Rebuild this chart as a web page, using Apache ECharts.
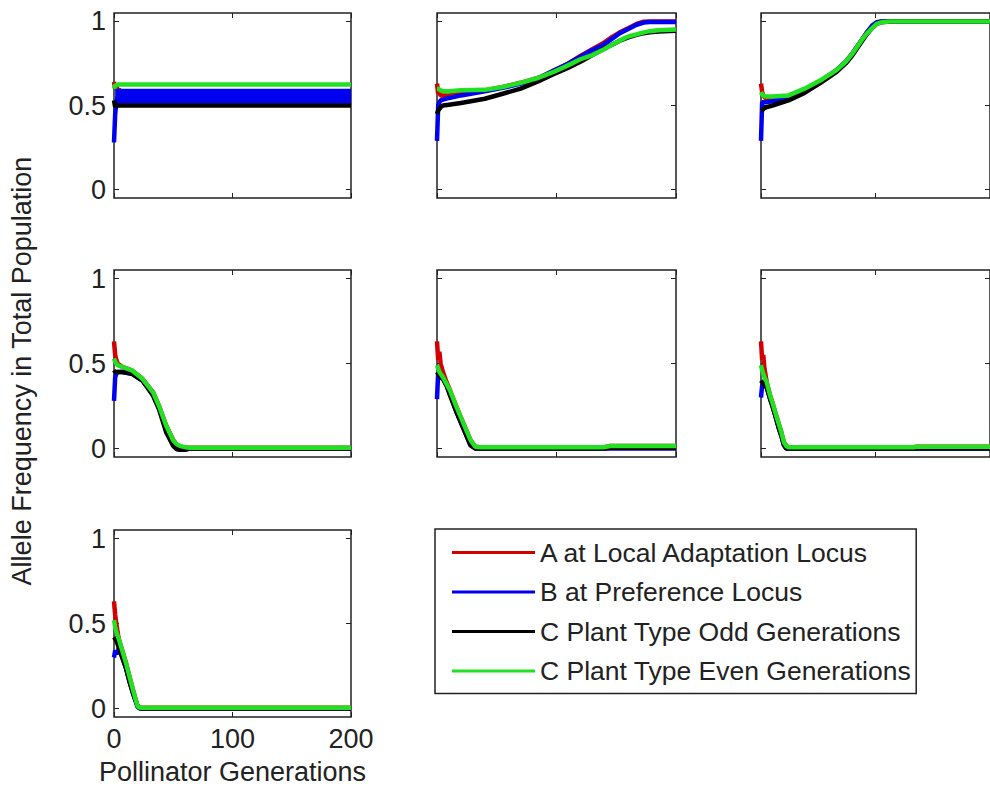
<!DOCTYPE html>
<html>
<head>
<meta charset="utf-8">
<script src="https://cdn.jsdelivr.net/npm/echarts@6/dist/echarts.min.js"></script>
<style>
    html, body { margin: 0; padding: 0; background: #fff; }
    #chart { width: 990px; height: 790px; }
</style>
</head>
<body>
<div id="chart"></div>
<script>
// tick labels
var yTicks = [0, 0.5, 1];
var xTicks = [0, 100, 200];

var seriesNames = ['A at Local Adaptation Locus', 'B at Preference Locus',
    'C Plant Type Odd Generations', 'C Plant Type Even Generations'];

// panel 1 (top left)
var p1_gen = [0, 1, 2, 3, 4, 5, 200];
var p1_A  = [0.64, 0.60, 0.62, 0.59, 0.60, 0.58, 0.58];
var p1_B  = [0.28, 0.45, 0.52, 0.55, 0.555, 0.555, 0.555];
var p1_C1 = [0.53, 0.49, 0.50, 0.50, 0.50, 0.50, 0.50];
var p1_C2 = [0.60, 0.62, 0.62, 0.625, 0.625, 0.625, 0.625];
// blue band of panel 1 (odd/even swing of B)
var p1_bandGen = [1, 200];
var p1_band    = [0.555, 0.555];

// panel 2 (top middle)
var p2_gen = [0, 1, 2, 3, 5, 10, 20, 40, 55, 70, 85, 97, 110, 120, 130, 139, 146, 153, 160, 167, 173, 178, 185, 200];
var p2_A  = [0.63, 0.57, 0.58, 0.56, 0.56, 0.56, 0.57, 0.59, 0.61, 0.635, 0.665, 0.705, 0.75, 0.795, 0.835, 0.87, 0.905, 0.935, 0.96, 0.985, 0.998, 1.0, 1.0, 1.0];
var p2_B  = [0.29, 0.50, 0.52, 0.53, 0.535, 0.545, 0.56, 0.585, 0.605, 0.63, 0.66, 0.705, 0.75, 0.79, 0.83, 0.86, 0.895, 0.93, 0.955, 0.98, 0.993, 0.997, 0.997, 0.997];
var p2_C1 = [0.45, 0.47, 0.48, 0.49, 0.50, 0.505, 0.515, 0.54, 0.57, 0.60, 0.645, 0.685, 0.725, 0.76, 0.80, 0.835, 0.86, 0.885, 0.905, 0.92, 0.93, 0.935, 0.94, 0.945];
var p2_C2 = [0.60, 0.60, 0.595, 0.59, 0.585, 0.585, 0.59, 0.593, 0.61, 0.635, 0.665, 0.698, 0.74, 0.775, 0.80, 0.831, 0.86, 0.887, 0.91, 0.923, 0.935, 0.942, 0.948, 0.952];

// panel 3 (top right)
var p3_gen = [0, 1, 2, 3, 5, 10, 24, 38, 52, 66, 74, 80, 84, 88, 92, 97, 101, 105, 112, 122, 200];
var p3_A  = [0.63, 0.58, 0.56, 0.55, 0.54, 0.54, 0.55, 0.59, 0.645, 0.71, 0.76, 0.81, 0.85, 0.89, 0.93, 0.97, 0.99, 1.0, 1.0, 1.0, 1.0];
var p3_B  = [0.29, 0.52, 0.52, 0.52, 0.52, 0.525, 0.545, 0.585, 0.645, 0.71, 0.76, 0.81, 0.85, 0.89, 0.93, 0.975, 0.995, 1.0, 1.0, 1.0, 1.0];
var p3_C1 = [0.47, 0.47, 0.48, 0.485, 0.49, 0.50, 0.53, 0.575, 0.635, 0.70, 0.75, 0.80, 0.84, 0.88, 0.92, 0.96, 0.985, 0.995, 1.0, 1.0, 1.0];
var p3_C2 = [0.58, 0.565, 0.56, 0.555, 0.553, 0.553, 0.56, 0.60, 0.65, 0.71, 0.76, 0.81, 0.85, 0.89, 0.925, 0.96, 0.985, 0.995, 1.0, 1.0, 1.0];

// panel 4 (middle left)
var p4_gen = [0, 1, 2, 3, 7, 15, 24, 33, 38, 44, 50, 53, 56, 60, 64, 200];
var p4_A  = [0.63, 0.55, 0.52, 0.50, 0.48, 0.46, 0.41, 0.33, 0.25, 0.135, 0.05, 0.02, 0.01, 0.005, 0.005, 0.005];
var p4_B  = [0.28, 0.42, 0.44, 0.45, 0.45, 0.44, 0.40, 0.32, 0.24, 0.11, 0.03, 0.0, -0.008, -0.008, 0.0, 0.0];
var p4_C1 = [0.46, 0.45, 0.45, 0.45, 0.45, 0.44, 0.40, 0.31, 0.23, 0.096, 0.015, -0.005, -0.008, -0.005, 0.0, 0.0];
var p4_C2 = [0.53, 0.51, 0.50, 0.49, 0.48, 0.46, 0.41, 0.33, 0.25, 0.135, 0.047, 0.025, 0.014, 0.008, 0.005, 0.005];

// panel 5 (middle centre)
var p5_gen = [0, 1, 2, 3, 5, 8, 11, 16, 22, 25, 28, 32, 36, 140, 145, 200];
var p5_A  = [0.63, 0.52, 0.57, 0.50, 0.45, 0.39, 0.34, 0.25, 0.15, 0.10, 0.05, 0.01, 0.008, 0.008, 0.015, 0.015];
var p5_B  = [0.29, 0.45, 0.43, 0.42, 0.41, 0.37, 0.32, 0.22, 0.12, 0.07, 0.02, 0.0, 0.0, 0.0, 0.0, 0.0];
var p5_C1 = [0.45, 0.44, 0.43, 0.42, 0.41, 0.37, 0.31, 0.22, 0.12, 0.07, 0.02, 0.0, 0.0, 0.0, 0.005, 0.005];
var p5_C2 = [0.49, 0.47, 0.45, 0.44, 0.42, 0.38, 0.34, 0.25, 0.15, 0.10, 0.05, 0.01, 0.008, 0.008, 0.015, 0.015];

// panel 6 (middle right)
var p6_gen = [0, 1, 2, 3, 5, 8, 10, 13, 16, 18, 20, 22, 24, 133, 136, 200];
var p6_A  = [0.63, 0.52, 0.55, 0.47, 0.39, 0.31, 0.27, 0.20, 0.135, 0.09, 0.037, 0.015, 0.008, 0.008, 0.01, 0.01];
var p6_B  = [0.30, 0.37, 0.38, 0.37, 0.36, 0.29, 0.25, 0.18, 0.11, 0.07, 0.02, 0.0, 0.0, 0.0, 0.0, 0.0];
var p6_C1 = [0.40, 0.39, 0.38, 0.37, 0.36, 0.29, 0.25, 0.18, 0.11, 0.07, 0.02, 0.0, 0.0, 0.0, 0.0, 0.0];
var p6_C2 = [0.49, 0.46, 0.44, 0.42, 0.39, 0.31, 0.27, 0.20, 0.135, 0.09, 0.037, 0.015, 0.008, 0.008, 0.01, 0.01];

// panel 7 (bottom left)
var p7_gen = [0, 1, 2, 3, 4, 7, 10, 13, 16, 18, 20, 22, 125, 128, 200];
var p7_A  = [0.63, 0.55, 0.50, 0.45, 0.41, 0.34, 0.27, 0.19, 0.11, 0.06, 0.012, 0.005, 0.005, 0.005, 0.005];
var p7_B  = [0.30, 0.34, 0.33, 0.32, 0.36, 0.30, 0.24, 0.16, 0.09, 0.05, 0.01, 0.0, 0.0, 0.0, 0.0];
var p7_C1 = [0.42, 0.41, 0.40, 0.38, 0.36, 0.30, 0.24, 0.16, 0.09, 0.05, 0.01, 0.0, 0.0, 0.0, 0.0];
var p7_C2 = [0.52, 0.48, 0.45, 0.43, 0.41, 0.34, 0.27, 0.19, 0.11, 0.06, 0.012, 0.005, 0.005, 0.005, 0.005];

var panels = [
    {gen: p1_gen, vals: [p1_A, p1_B, p1_C1, p1_C2]},
    {gen: p2_gen, vals: [p2_A, p2_B, p2_C1, p2_C2]},
    {gen: p3_gen, vals: [p3_A, p3_B, p3_C1, p3_C2]},
    {gen: p4_gen, vals: [p4_A, p4_B, p4_C1, p4_C2]},
    {gen: p5_gen, vals: [p5_A, p5_B, p5_C1, p5_C2]},
    {gen: p6_gen, vals: [p6_A, p6_B, p6_C1, p6_C2]},
    {gen: p7_gen, vals: [p7_A, p7_B, p7_C1, p7_C2]}
];

var colors = ['#d40000', '#0000f0', '#000000', '#22e022'];
var FONT = '"Liberation Sans", Arial, sans-serif';
var FS = 27;
var TXT = '#222';

// [left, top, width, height] of each subplot
var boxes = [
    [114, 13, 237, 185], [437, 13, 239, 185], [761, 13, 239, 185],
    [114, 270, 237, 187], [437, 270, 239, 187], [761, 270, 239, 187],
    [114, 530, 237, 187]
];

function pairs(xs, ys) {
    return xs.map(function (x, k) { return [x, ys[k]]; });
}

var option = {
    animation: false,
    backgroundColor: '#fff',
    textStyle: {fontFamily: FONT},
    grid: [], xAxis: [], yAxis: [], series: [],
    legend: {
        orient: 'vertical',
        left: 435, top: 529,
        data: seriesNames,
        icon: 'rect',
        itemWidth: 83, itemHeight: 3, itemGap: 12.5,
        padding: [10, 5, 9, 17],
        borderColor: '#222', borderWidth: 1.5,
        backgroundColor: '#fff',
        selectedMode: false,
        textStyle: {fontSize: 26.5, color: TXT, fontFamily: FONT}
    },
    graphic: [{
        type: 'text',
        x: 22, y: 371,
        rotation: Math.PI / 2,
        style: {
            text: 'Allele Frequency in Total Population',
            fontSize: FS, fontFamily: FONT, fill: TXT,
            align: 'center', verticalAlign: 'middle'
        }
    }]
};

panels.forEach(function (p, i) {
    var b = boxes[i];
    var showX = (i === 6);
    var showY = (i % 3 === 0);
    option.grid.push({
        left: b[0], top: b[1], width: b[2], height: b[3],
        show: true, borderColor: '#222', borderWidth: 1.5, backgroundColor: '#fff'
    });
    var tickX = {inside: true, length: 5, customValues: xTicks, lineStyle: {color: '#222'}};
    var tickY = {inside: true, length: 5, customValues: yTicks, lineStyle: {color: '#222'}};
    option.xAxis.push({
        type: 'value', gridIndex: i, min: 0, max: 200, position: 'bottom',
        axisLine: {show: false, onZero: false}, splitLine: {show: false},
        axisTick: tickX,
        axisLabel: {show: showX, customValues: xTicks, fontSize: FS, color: TXT, margin: 8},
        name: showX ? 'Pollinator Generations' : '',
        nameLocation: 'middle', nameGap: 41,
        nameTextStyle: {fontSize: FS, color: TXT}
    });
    option.xAxis.push({
        type: 'value', gridIndex: i, min: 0, max: 200, position: 'top',
        axisLine: {show: false, onZero: false}, splitLine: {show: false},
        axisTick: tickX, axisLabel: {show: false}
    });
    option.yAxis.push({
        type: 'value', gridIndex: i, min: -0.05, max: 1.05, position: 'left',
        axisLine: {show: false, onZero: false}, splitLine: {show: false},
        axisTick: tickY,
        axisLabel: {show: showY, customValues: yTicks, fontSize: FS, color: TXT, margin: 8}
    });
    option.yAxis.push({
        type: 'value', gridIndex: i, min: -0.05, max: 1.05, position: 'right',
        axisLine: {show: false, onZero: false}, splitLine: {show: false},
        axisTick: tickY, axisLabel: {show: false}
    });

    p.vals.forEach(function (v, s) {
        option.series.push({
            name: seriesNames[s], type: 'line',
            xAxisIndex: 2 * i, yAxisIndex: 2 * i,
            symbol: 'none', silent: true,
            itemStyle: {color: colors[s]},
            lineStyle: {color: colors[s], width: 4.5},
            data: pairs(p.gen, v),
            z: 2 + s
        });
        if (i === 0 && s === 1) {
            option.series.push({
                name: seriesNames[1], type: 'line',
                xAxisIndex: 0, yAxisIndex: 0,
                symbol: 'none', silent: true,
                itemStyle: {color: colors[1]},
                lineStyle: {color: colors[1], width: 15, cap: 'butt'},
                data: pairs(p1_bandGen, p1_band),
                z: 3
            });
        }
    });
});

var chart = echarts.init(document.getElementById('chart'), null, {renderer: 'svg'});
chart.setOption(option);
</script>
</body>
</html>
